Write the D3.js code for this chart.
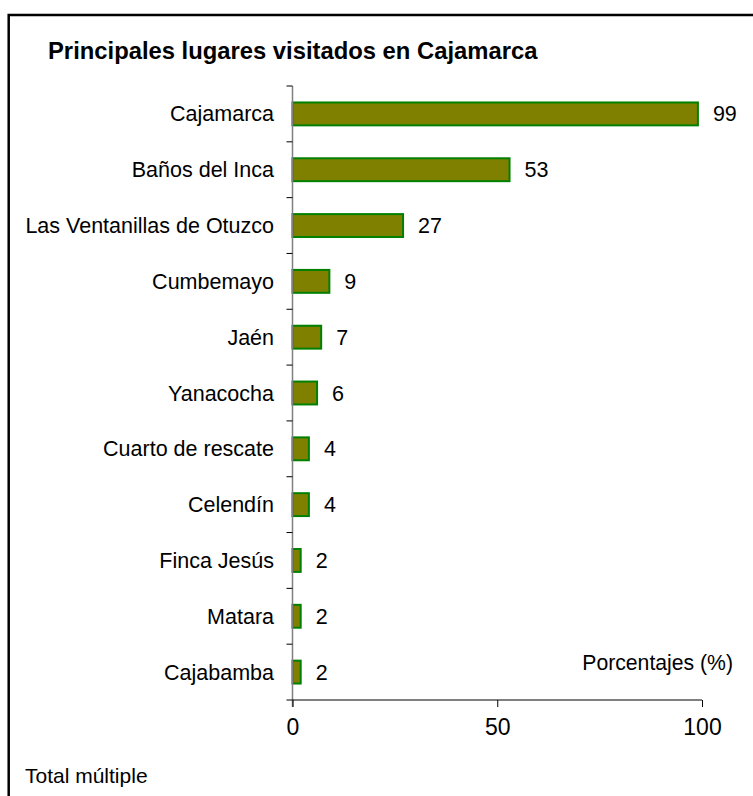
<!DOCTYPE html>
<html>
<head>
<meta charset="utf-8">
<script src="https://cdn.jsdelivr.net/npm/d3@7"></script>
<style>
body{margin:0;background:#fff;}
svg text{font-family:"Liberation Sans",Arial,sans-serif;fill:#000;}
</style>
</head>
<body>
<svg id="chart"></svg>
<script>
// data
var lugares=["Cajamarca","Baños del Inca","Las Ventanillas de Otuzco","Cumbemayo","Jaén","Yanacocha","Cuarto de rescate","Celendín","Finca Jesús","Matara","Cajabamba"];
var porcentajes=[99,53,27,9,7,6,4,4,2,2,2];
var xTicks=[0,50,100];
var titulo="Principales lugares visitados en Cajamarca";
var ejeX="Porcentajes (%)";
var nota="Total múltiple";

var screen={width:753,height:796}
var plot={left:292.5,right:702,top:86,bottom:700}

var svg=d3.select("#chart")
    .attr("width",screen.width)
    .attr("height",screen.height)

// outer frame (right and bottom edge fall outside the picture)
svg.append("rect")
    .attr("x",8.7).attr("y",15)
    .attr("width",900).attr("height",900)
    .attr("fill","none")
    .attr("stroke","#000")
    .attr("stroke-width",2.5)

var xScale=d3.scaleLinear()
    .domain([0,100])
    .range([plot.left,plot.right])
var yScale=d3.scaleBand()
    .domain(lugares)
    .range([plot.top,plot.bottom])
    .paddingInner(0.59)
    .paddingOuter(0.295)

var step=yScale.step()
var gap=(step-yScale.bandwidth())/2

// bars
svg.selectAll(".bar")
    .data(lugares)
    .enter()
    .append("rect")
    .attr("class","bar")
    .attr("x",xScale(0))
    .attr("y",function(d){return yScale(d)})
    .attr("width",function(d,i){return xScale(porcentajes[i])-xScale(0)})
    .attr("height",yScale.bandwidth())
    .attr("fill","#808000")
    .attr("stroke","#008000")
    .attr("stroke-width",2)

// value labels
svg.selectAll(".val")
    .data(lugares)
    .enter()
    .append("text")
    .attr("class","val")
    .attr("x",function(d,i){return xScale(porcentajes[i])+15})
    .attr("y",function(d){return yScale(d)+yScale.bandwidth()/2})
    .attr("dy","0.35em")
    .attr("font-size",21.5)
    .text(function(d,i){return porcentajes[i]})

// category labels
svg.selectAll(".cat")
    .data(lugares)
    .enter()
    .append("text")
    .attr("class","cat")
    .attr("x",plot.left-18.5)
    .attr("y",function(d){return yScale(d)+yScale.bandwidth()/2})
    .attr("dy","0.35em")
    .attr("text-anchor","end")
    .attr("font-size",21.5)
    .text(function(d){return d})

// y axis: line plus ticks between categories
svg.append("line")
    .attr("x1",plot.left).attr("x2",plot.left)
    .attr("y1",plot.top).attr("y2",plot.bottom+7)
    .attr("stroke","#808080").attr("stroke-width",1.5)
var bounds=lugares.map(function(d){return yScale(d)-gap})
bounds.push(plot.bottom)
svg.selectAll(".ytick")
    .data(bounds)
    .enter()
    .append("line")
    .attr("class","ytick")
    .attr("x1",plot.left-6).attr("x2",plot.left)
    .attr("y1",function(d){return d}).attr("y2",function(d){return d})
    .attr("stroke","#000").attr("stroke-width",1)

// x axis
var xAxis=d3.axisBottom(xScale)
    .tickValues(xTicks)
    .tickSize(7)
    .tickPadding(12)
var gx=svg.append("g")
    .attr("transform","translate(0,"+plot.bottom+")")
    .call(xAxis)
gx.select(".domain").remove()
gx.selectAll(".tick line").attr("stroke","#000")
gx.selectAll(".tick text")
    .attr("font-size",23)
    .attr("font-family","Liberation Sans, Arial, sans-serif")
    .attr("fill","#000")
svg.append("line")
    .attr("x1",plot.left).attr("x2",plot.right)
    .attr("y1",plot.bottom).attr("y2",plot.bottom)
    .attr("stroke","#000").attr("stroke-width",1)

// texts
svg.append("text")
    .attr("x",48).attr("y",59)
    .attr("font-size",23.8)
    .attr("font-weight","bold")
    .text(titulo)
svg.append("text")
    .attr("x",733).attr("y",670)
    .attr("text-anchor","end")
    .attr("font-size",21.2)
    .text(ejeX)
svg.append("text")
    .attr("x",25).attr("y",783)
    .attr("font-size",21)
    .text(nota)
</script>
</body>
</html>
